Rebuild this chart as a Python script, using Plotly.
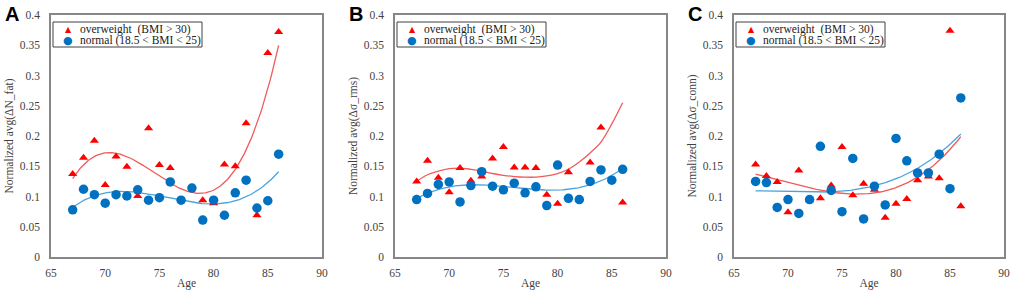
import numpy as np
import plotly.graph_objects as go

ages = list(range(67, 87))

# Panel A: Normalized avg(ΔN_fat)
a_over = [0.137, 0.164, 0.192, 0.119, 0.166, 0.149, 0.101, 0.213, 0.152, 0.147,
          None, None, 0.094, 0.089, 0.153, 0.150, 0.221, 0.069, 0.337, 0.372]
a_norm = [0.078, 0.112, 0.103, 0.089, 0.103, 0.101, 0.111, 0.094, 0.098, 0.124,
          0.094, 0.114, 0.061, 0.094, 0.069, 0.106, 0.127, 0.081, 0.093, 0.170]

# Panel B: Normalized avg(Δσ_rms)
b_over = [0.125, 0.159, 0.131, 0.107, 0.147, 0.126, 0.133, 0.163, 0.182, 0.148,
          0.148, 0.147, 0.103, 0.088, 0.140, 0.095, 0.156, 0.214, None, 0.090]
b_norm = [0.095, 0.105, 0.120, 0.124, 0.091, 0.118, 0.141, 0.117, 0.111, 0.122,
          0.106, 0.116, 0.085, 0.152, 0.097, 0.095, 0.125, 0.144, 0.127, 0.145]
# trend line of the overweight group in panel B
b_over_trend = [0.125, 0.136, 0.142, 0.146, 0.147, 0.145, 0.142, 0.138, 0.135, 0.133,
                0.132, 0.132, 0.134, 0.138, 0.145, 0.157, 0.172, 0.190, 0.220, 0.255]

# Panel C: Normalized avg(Δσ_conn)
c_over = [0.153, 0.134, 0.124, 0.074, 0.143, 0.094, 0.097, 0.118, 0.182, 0.102,
          0.121, 0.111, 0.065, 0.088, 0.096, 0.127, 0.133, 0.130, 0.374, 0.084]
c_norm = [0.125, 0.123, 0.082, 0.095, 0.072, 0.095, 0.183, 0.110, 0.075, 0.163,
          0.063, 0.117, 0.086, 0.196, 0.159, 0.139, 0.139, 0.170, 0.113, 0.263]

panel_letters = ["A", "B", "C"]
y_titles = ["Normalized avg(ΔN_fat)", "Normalized avg(Δσ_rms)", "Normalized avg(Δσ_conn)"]
legend_over = "overweight\u00a0 (BMI > 30)"
legend_norm = "normal (18.5 < BMI < 25)"
x_ticks = [65, 70, 75, 80, 85, 90]
y_ticks = [0, 0.05, 0.1, 0.15, 0.2, 0.25, 0.3, 0.35, 0.4]

FIT_DEG = 3

RED = "#ff0000"
BLUE = "#0070c0"
RED_LINE = "#f05a5a"
BLUE_LINE = "#4aa3dd"
SERIF = "Liberation Serif"
TXT = "#3f3f3f"

W, H = 1010, 290
ML, MR, MT, MB = 51, 6, 15, 33
PW = W - ML - MR
PH = H - MT - MB
x_px = [(51, 322), (395, 666), (734, 1004)]


def fx(px):
    return (px - ML) / PW


def fy(py):
    return (H - MB - py) / PH


fig = go.Figure()


def fit_curve(xs, ys, deg):
    pts = [(x, y) for x, y in zip(xs, ys) if y is not None]
    px = np.array([p[0] for p in pts], float)
    py = np.array([p[1] for p in pts], float)
    coef = np.polyfit(px, py, deg)
    xf = np.linspace(min(xs), max(xs), 200)
    return xf, np.polyval(coef, xf)


data = [(a_over, a_norm, None), (b_over, b_norm, b_over_trend), (c_over, c_norm, None)]
for i, (ov, nm, ov_trend) in enumerate(data):
    xa = "x" if i == 0 else f"x{i+1}"
    ya = "y" if i == 0 else f"y{i+1}"
    xf, yf = fit_curve(ages, nm, FIT_DEG)
    fig.add_trace(go.Scatter(x=xf, y=yf, mode="lines", line=dict(color=BLUE_LINE, width=1.3),
                             xaxis=xa, yaxis=ya, showlegend=False, hoverinfo="skip"))
    if ov_trend is None:
        xf, yf = fit_curve(ages, ov, FIT_DEG)
        fig.add_trace(go.Scatter(x=xf, y=yf, mode="lines", line=dict(color=RED_LINE, width=1.3),
                                 xaxis=xa, yaxis=ya, showlegend=False, hoverinfo="skip"))
    else:
        fig.add_trace(go.Scatter(x=ages, y=ov_trend, mode="lines",
                                 line=dict(color=RED_LINE, width=1.3, shape="spline"),
                                 xaxis=xa, yaxis=ya, showlegend=False, hoverinfo="skip"))
    fig.add_trace(go.Scatter(x=ages, y=ov, mode="markers", name=legend_over,
                             marker=dict(symbol="triangle-up", size=8, color=RED),
                             xaxis=xa, yaxis=ya, showlegend=False))
    fig.add_trace(go.Scatter(x=ages, y=nm, mode="markers", name=legend_norm,
                             marker=dict(symbol="circle", size=9.5, color=BLUE),
                             xaxis=xa, yaxis=ya, showlegend=False))

layout = dict(width=W, height=H, margin=dict(l=ML, r=MR, t=MT, b=MB, autoexpand=False),
              paper_bgcolor="white", plot_bgcolor="white", showlegend=False)
annotations = []
shapes = []
for i in range(3):
    sfx = "" if i == 0 else str(i + 1)
    x0, x1 = x_px[i]
    layout["xaxis" + sfx] = dict(
        domain=[fx(x0), fx(x1)], range=[65, 90], tickvals=x_ticks,
        showgrid=False, zeroline=False, showline=True, linecolor="#868686", linewidth=1.5,
        mirror=True, ticks="", anchor="y" + sfx, automargin=False, ticklabelstandoff=4,
        tickfont=dict(family=SERIF, size=11.5, color=TXT),
        title=dict(text="Age", font=dict(family=SERIF, size=11.5, color=TXT), standoff=2))
    layout["yaxis" + sfx] = dict(
        domain=[0, 1], range=[0, 0.4], tickvals=y_ticks,
        showgrid=False, zeroline=False, showline=True, linecolor="#868686", linewidth=1.5,
        mirror=True, ticks="", anchor="x" + sfx, automargin=False, ticklabelstandoff=7,
        tickfont=dict(family=SERIF, size=11.5, color=TXT),
        title=dict(text=y_titles[i], font=dict(family=SERIF, size=11.5, color=TXT), standoff=4))
    # legend box
    lx0, lx1, ly0, ly1 = x0 + 2, x0 + 151, 22, 47
    shapes.append(dict(type="rect", xref="paper", yref="paper",
                       x0=fx(lx0), x1=fx(lx1), y0=fy(ly1), y1=fy(ly0),
                       line=dict(color="#404040", width=1), fillcolor="white", layer="above"))
    for row, (sym, col, ssz, lab) in enumerate([("▲", RED, 8, legend_over),
                                                 ("●", BLUE, 11, legend_norm)]):
        cy = 29 + row * 11
        annotations.append(dict(text=sym, x=fx(lx0 + 15), y=fy(cy), xref="paper", yref="paper",
                                xanchor="center", yanchor="middle", showarrow=False,
                                font=dict(family="DejaVu Sans", size=ssz, color=col)))
        annotations.append(dict(text=lab, x=fx(lx0 + 25), y=fy(cy), xref="paper", yref="paper",
                                xanchor="left", yanchor="middle", showarrow=False,
                                font=dict(family=SERIF, size=11.5, color="#222222")))
    annotations.append(dict(text="<b>" + panel_letters[i] + "</b>", x=fx(x0 - 48), y=fy(1),
                            xref="paper", yref="paper", xanchor="left", yanchor="top",
                            showarrow=False,
                            font=dict(family="Liberation Sans", size=20, color="black")))
layout["annotations"] = annotations
layout["shapes"] = shapes
fig.update_layout(**layout)

fig.write_html("out.html", config={"displayModeBar": False},
               post_script="document.body.style.margin='0';document.body.style.overflow='hidden';")
